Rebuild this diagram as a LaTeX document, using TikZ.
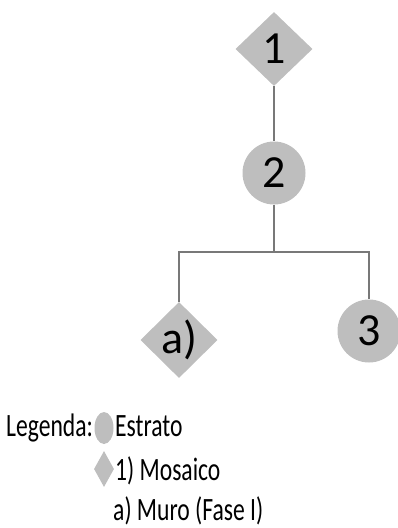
\documentclass[tikz,border=0pt]{standalone}
\usepackage{fontspec}
\setmainfont{Carlito}
\usetikzlibrary{shapes.geometric}
\definecolor{nodegray}{RGB}{190,190,190}
\definecolor{linegray}{RGB}{120,120,120}
\tikzset{
  dia/.style={diamond,fill=nodegray,inner sep=0pt,minimum width=77pt,minimum height=74pt,font=\fontsize{46}{50}\selectfont},
  circ/.style={circle,fill=nodegray,inner sep=0pt,minimum size=63pt,font=\fontsize{46}{50}\selectfont},
  conn/.style={draw=linegray,line width=1.2pt},
  legtext/.style={anchor=base west,inner sep=0pt,font=\fontsize{23.6}{26}\selectfont},
}
\newcommand{\tallify}[1]{\scalebox{1}[1.38]{#1}}
\begin{document}
\begin{tikzpicture}[x=1pt,y=-1pt]
\useasboundingbox (0,0) rectangle (398,528);
\node[dia] (n1) at (274,49) {1};
\node[circ] (n2) at (274,173) {2};
\node[dia] (na) at (179,340) {a)};
\node[circ] (n3) at (369,331) {3};
\coordinate (j) at (274,252);
\draw[conn] (n1.south) -- (n2.north);
\draw[conn] (n2.south) -- (j);
\draw[conn] (na.north) |- (j) -| (n3.north);
% legend
\node[legtext] (lg) at (6,436) {\tallify{Legenda:}};
\node[ellipse,fill=nodegray,inner sep=0pt,minimum width=19pt,minimum height=32pt] (lc) at (104,428) {};
\node[legtext] (le) at (115,436) {\tallify{Estrato}};
\node[diamond,fill=nodegray,inner sep=0pt,minimum width=20pt,minimum height=36pt] (ld) at (104,469) {};
\node[legtext] (lm) at (115,480) {\tallify{1) Mosaico}};
\node[legtext] (lf) at (113,520) {\tallify{a) Muro (Fase I)}};
\end{tikzpicture}
\end{document}
